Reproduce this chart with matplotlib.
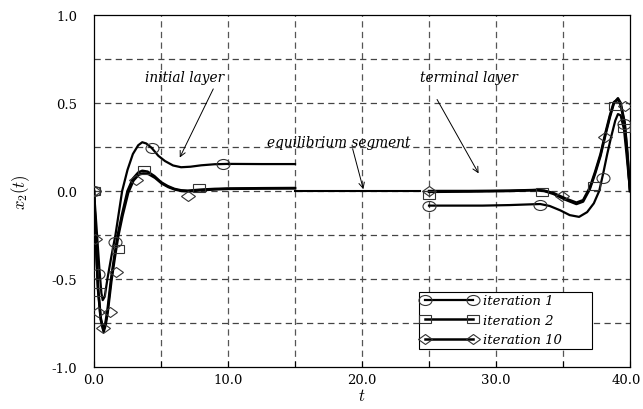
import numpy as np
import matplotlib
matplotlib.use("Agg")
import matplotlib.pyplot as plt
from matplotlib.markers import MarkerStyle
from matplotlib.transforms import Affine2D, ScaledTranslation

plt.rcParams['font.family'] = ['DejaVu Serif']
plt.rcParams['mathtext.fontset'] = 'cm'
plt.rcParams['axes.unicode_minus'] = False

# initial layer curves (t, x2)
t1_init = [0.0, 0.2, 0.4, 0.55, 0.65, 0.8, 1.0, 1.3, 1.6, 2.1, 2.5, 2.9, 3.3, 3.6, 3.9,
           4.3, 4.8, 5.3, 5.9, 6.5, 7.2, 8.0, 9.0, 10.0, 12.5, 15.0]
x1_init = [0.0, -0.22, -0.44, -0.58, -0.62, -0.6, -0.5, -0.37, -0.25, 0.0, 0.12, 0.21, 0.26, 0.277, 0.27,
           0.245, 0.2, 0.17, 0.145, 0.135, 0.138, 0.146, 0.152, 0.154, 0.153, 0.153]

t2_init = [0.0, 0.15, 0.3, 0.5, 0.7, 0.85, 1.0, 1.27, 1.5, 1.77, 2.1, 2.5, 2.9, 3.3, 3.6,
           4.0, 4.5, 5.0, 5.5, 6.0, 6.5, 7.0, 8.0, 9.0, 10.0, 12.5, 15.0]
x2_init = [0.0, -0.3, -0.55, -0.72, -0.79, -0.75, -0.68, -0.5, -0.38, -0.25, -0.13, 0.0, 0.07, 0.105, 0.115,
           0.11, 0.085, 0.05, 0.028, 0.012, 0.004, 0.002, 0.008, 0.012, 0.014, 0.016, 0.017]

t10_init = [0.0, 0.15, 0.3, 0.5, 0.72, 0.87, 1.02, 1.3, 1.53, 1.8, 2.13, 2.55, 2.95, 3.35, 3.65,
            4.05, 4.55, 5.05, 5.55, 6.05, 6.55, 7.05, 8.0, 9.0, 10.0, 12.5, 15.0]
x10_init = [0.0, -0.31, -0.56, -0.73, -0.8, -0.76, -0.69, -0.51, -0.39, -0.26, -0.14, -0.01, 0.06, 0.093, 0.1,
            0.097, 0.075, 0.043, 0.022, 0.008, 0.0, -0.002, 0.004, 0.009, 0.012, 0.014, 0.015]

# equilibrium segment
t_eq = [15.0, 24.3]
x_eq = [0.0, 0.0]

# terminal layer curves
t1_term = [25.0, 27.0, 29.0, 31.0, 32.5, 33.3, 34.0, 34.8, 35.5, 36.2, 36.8, 37.3, 37.7,
           38.0, 38.3, 38.6, 38.9, 39.1, 39.3, 39.55, 39.75, 40.0]
x1_term = [-0.083, -0.083, -0.083, -0.08, -0.076, -0.074, -0.085, -0.11, -0.137, -0.147, -0.12, -0.07, 0.0,
           0.10, 0.21, 0.31, 0.40, 0.437, 0.43, 0.35, 0.2, 0.0]

t2_term = [25.0, 28.0, 31.0, 33.0, 33.6, 34.3, 35.2, 36.0, 36.5, 37.0, 37.4, 37.8,
           38.2, 38.5, 38.8, 39.1, 39.3, 39.6, 39.8, 40.0]
x2_term = [-0.005, -0.003, 0.0, 0.005, 0.0, -0.017, -0.05, -0.074, -0.06, 0.011, 0.1, 0.2,
           0.33, 0.42, 0.5, 0.527, 0.5, 0.39, 0.22, 0.0]

t10_term = [25.0, 28.0, 31.0, 33.0, 33.6, 34.3, 35.2, 36.0, 36.5, 37.0, 37.4, 37.8,
            38.2, 38.5, 38.8, 39.1, 39.3, 39.6, 39.8, 40.0]
x10_term = [0.0, 0.0, 0.002, 0.006, 0.002, -0.012, -0.043, -0.066, -0.052, 0.02, 0.11, 0.21,
            0.34, 0.43, 0.505, 0.52, 0.49, 0.38, 0.21, 0.0]

# marker points
t1_mk = [0.0, 0.27, 1.6, 4.3, 9.6, 25.0, 33.3, 38.0, 39.55]
x1_mk = [0.0, -0.47, -0.29, 0.245, 0.153, -0.085, -0.08, 0.072, 0.38]
t2_mk = [0.0, 0.4, 1.8, 3.7, 7.8, 25.0, 33.4, 37.3, 38.9, 39.55]
x2_mk = [0.0, -0.575, -0.33, 0.12, 0.015, -0.02, -0.008, 0.03, 0.485, 0.356]
t10_mk = [0.0, 0.1, 0.27, 0.65, 1.2, 1.65, 3.1, 7.0, 25.0, 34.9, 38.1, 39.6]
x10_mk = [0.0, -0.27, -0.69, -0.78, -0.69, -0.46, 0.06, -0.027, 0.0, -0.03, 0.305, 0.485]

labels = ["iteration 1", "iteration 2", "iteration 10"]


def ellipse(m):
    return MarkerStyle(m, transform=Affine2D().scale(1.3, 1.0))


fig = plt.figure(figsize=[6.43, 4.10], dpi=100)
ax = fig.add_axes([0.1462, 0.1024, 0.8336, 0.8586])

series = [
    dict(ti=t1_init, xi=x1_init, tt=t1_term, xt=x1_term, tm=t1_mk, xm=x1_mk, m=ellipse('o'), ms=7.2, lw=1.6),
    dict(ti=t2_init, xi=x2_init, tt=t2_term, xt=x2_term, tm=t2_mk, xm=x2_mk, m=ellipse('s'), ms=6.3, lw=1.8),
    dict(ti=t10_init, xi=x10_init, tt=t10_term, xt=x10_term, tm=t10_mk, xm=x10_mk, m=ellipse('D'), ms=5.6, lw=1.8),
]

handles = []
for no, s in enumerate(series):
    ax.plot(s["ti"], s["xi"], color="k", lw=s["lw"], zorder=3)
    ax.plot(s["tt"], s["xt"], color="k", lw=s["lw"], zorder=3)
    ax.plot(s["tm"], s["xm"], linestyle="none", marker=s["m"], ms=s["ms"],
            mfc="none", mec="#333333", mew=0.8, zorder=4)
    h, = ax.plot([], [], color="k", lw=s["lw"], marker=s["m"], ms=s["ms"],
                 mfc="none", mec="#333333", mew=0.8, label=labels[no])
    handles.append(h)

ax.plot(t_eq, x_eq, color="k", lw=1.5, zorder=3)

# grid
for gx in [5, 10, 15, 20, 25, 30, 35]:
    ax.axvline(gx, color="#555555", lw=0.9, dashes=(5, 3.5), zorder=1)
for gy in [-0.75, -0.5, -0.25, 0.0, 0.25, 0.5, 0.75]:
    ax.axhline(gy, color="#444444", lw=0.9, dashes=(5, 3.5), zorder=1)

ax.set_xlim(0, 40)
ax.set_ylim(-1, 1)
ax.set_xticks([0, 10, 20, 30, 40])
ax.set_xticklabels(["0.0", "10.0", "20.0", "30.0", "40.0"])
ax.set_xticks([5, 15, 25, 35], minor=True)
ax.set_yticks([-1.0, -0.5, 0.0, 0.5, 1.0])
ax.set_yticklabels(["-1.0", "-0.5", "0.0", "0.5", "1.0"])
ax.tick_params(axis="x", which="both", direction="in", length=4, width=0.8, labelsize=9.5, pad=4)
ax.tick_params(axis="y", which="both", length=0, labelsize=9.5, pad=12)
for sp in ax.spines.values():
    sp.set_linewidth(0.9)

# keep the last x label inside the figure
last = ax.get_xticklabels()[-1]
last.set_transform(last.get_transform() + ScaledTranslation(-3 / 72, 0, fig.dpi_scale_trans))

ax.set_xlabel("$t$", fontsize=12, labelpad=1)
ax.set_ylabel("$x_2(t)$", fontsize=12, labelpad=14)

ann = dict(fontsize=9.8, style="italic", ha="center", va="center")
arrow = dict(arrowstyle="->", color="k", lw=0.7, shrinkA=0, shrinkB=0)
ax.text(6.75, 0.65, "initial layer", **ann)
ax.annotate("", xy=(6.4, 0.19), xytext=(8.9, 0.58), arrowprops=arrow)
ax.text(18.3, 0.28, "equilibrium segment", **ann)
ax.annotate("", xy=(20.1, 0.01), xytext=(19.3, 0.24), arrowprops=arrow)
ax.text(28.0, 0.65, "terminal layer", **ann)
ax.annotate("", xy=(28.7, 0.10), xytext=(25.6, 0.52), arrowprops=arrow)

leg = ax.legend(handles=handles, loc="lower left", bbox_to_anchor=(0.606, 0.051, 0.324, 0.16),
                mode="expand", borderaxespad=0, fancybox=False, framealpha=1, edgecolor="k",
                prop=dict(family="DejaVu Serif", style="italic", size=9.5),
                numpoints=2, handlelength=4.2, labelspacing=0.5,
                borderpad=0.2, handletextpad=0.5)
leg.get_frame().set_linewidth(0.8)
leg.set_zorder(6)

plt.savefig("out.png", dpi=100)
